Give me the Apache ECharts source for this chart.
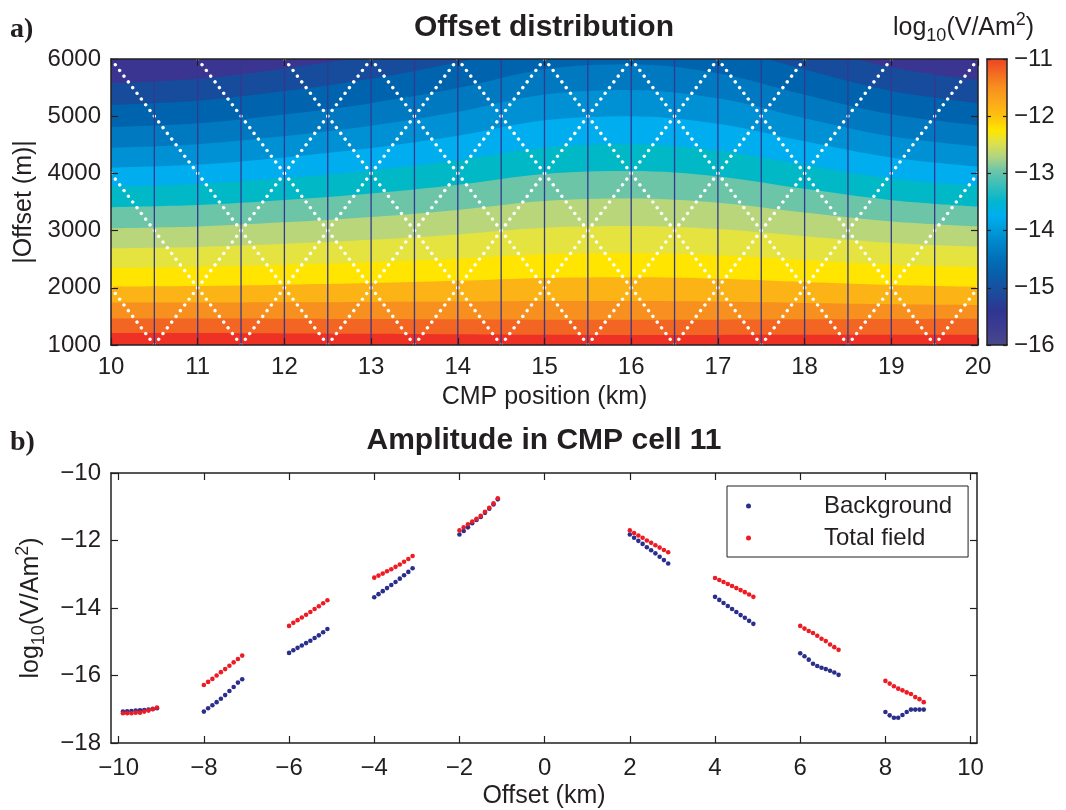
<!DOCTYPE html>
<html><head><meta charset="utf-8">
<script src="https://cdn.jsdelivr.net/npm/echarts@6/dist/echarts.min.js"></script>
<style>html,body{margin:0;padding:0;background:#fff}#c{width:1066px;height:810px}</style>
</head><body><div id="c"></div>
<script>
// ---------------- Panel a: offset distribution ----------------
const cmpNodes = [10, 11, 12, 13, 14, 15, 16, 17, 18, 19, 20];
// offset (m) of each colour-band boundary, read at the CMP nodes (bottom -> top)
const contourB0  = [1210,1208,1203,1197,1188,1178,1175,1176,1178,1179,1180];
const contourB1  = [1465,1463,1460,1455,1450,1442,1440,1443,1450,1456,1460];
const contourB2  = [1740,1742,1746,1751,1759,1768,1770,1760,1735,1713,1700];
const contourB3  = [2020,2030,2053,2083,2122,2172,2185,2160,2103,2050,2020];
const contourB4  = [2350,2365,2401,2447,2508,2585,2605,2568,2483,2404,2360];
const contourB5  = [2690,2713,2768,2838,2932,3049,3080,3026,2900,2785,2720];
const contourB6  = [3040,3071,3144,3238,3362,3518,3560,3487,3315,3158,3070];
const contourB7  = [3410,3448,3536,3649,3801,3990,4040,3947,3730,3532,3420];
const contourB8  = [3770,3814,3918,4051,4229,4451,4510,4401,4145,3911,3780];
const contourB9  = [4100,4154,4280,4442,4658,4928,5000,4868,4560,4278,4120];
const contourB10 = [4450,4511,4652,4834,5076,5379,5460,5312,4965,4648,4470];
const contourB11 = [4810,4876,5030,5228,5492,5822,5910,5750,5375,5033,4840];
const contourB12 = [5200,5272,5440,5656,5944,6304,6400,6225,5815,5441,5230];
const contourB13 = [5575,5653,5835,6069,6381,6771,6875,6688,6253,5854,5630];
// fill colour below each boundary (index i fills below contourBi); last = top band
const bandColors = ['#EE3124','#F26522','#F7901E','#FBB316','#FFE500','#E5E33F','#B9D77A',
                    '#6DC5A8','#00B8C6','#00ADEE','#0090D4','#0079C0','#0063AE','#174B9B','#3A3590'];
const cellEdges = [10.5,11,11.5,12,12.5,13,13.5,14,14.5,15,15.5,16,16.5,17,17.5,18,18.5,19,19.5];
const vertexCmp = [10.5,11.5,12.5,13.5,14.5,15.5,16.5,17.5,18.5,19.5];
const armHalfWidthKm = 2.5;
const offsetStepM = 100;
const cmpTicks = [10,11,12,13,14,15,16,17,18,19,20];
const offsetTicks = [1000,2000,3000,4000,5000,6000];
const cbTicks = [-16,-15,-14,-13,-12,-11];
const cbLevels = [-16,-15.7,-15.4,-15.1,-14.8,-14.5,-14.2,-13.95,-13.75,-13.5,-13.2,-12.95,-12.7,-12.45,-12.25,-12.0,-11.75,-11.5,-11.25,-11.0];
const cbColors = ['#47498A','#3D3C92','#2E3591','#1D4B9C','#0A5CA9','#0070B8','#0087CB','#009EDD','#00AEEF','#00B6CF',
                  '#3ABFB8','#6DC5A8','#B3D57F','#E1E147','#FFE600','#FDC20E','#FBA81A','#F7901E','#F26B21','#EE4424'];

// ---------------- Panel b: amplitude in CMP cell 11 ----------------
const offsetKm = [
  -9.9,-9.8,-9.7,-9.6,-9.5,-9.4,-9.3,-9.2,-9.1,
  -8,-7.9,-7.8,-7.7,-7.6,-7.5,-7.4,-7.3,-7.2,-7.1,
  -6,-5.9,-5.8,-5.7,-5.6,-5.5,-5.4,-5.3,-5.2,-5.1,
  -4,-3.9,-3.8,-3.7,-3.6,-3.5,-3.4,-3.3,-3.2,-3.1,
  -2,-1.9,-1.8,-1.7,-1.6,-1.5,-1.4,-1.3,-1.2,-1.1,
  2,2.1,2.2,2.3,2.4,2.5,2.6,2.7,2.8,2.9,
  4,4.1,4.2,4.3,4.4,4.5,4.6,4.7,4.8,4.9,
  6,6.1,6.2,6.3,6.4,6.5,6.6,6.7,6.8,6.9,
  8,8.1,8.2,8.3,8.4,8.5,8.6,8.7,8.8,8.9];
const backgroundLog = [
  -17.07,-17.06,-17.05,-17.04,-17.03,-17.02,-17.01,-16.99,-16.97,
  -17.07,-16.97,-16.88,-16.79,-16.69,-16.58,-16.46,-16.34,-16.21,-16.11,
  -15.33,-15.25,-15.18,-15.11,-15.04,-14.97,-14.89,-14.81,-14.72,-14.62,
  -13.68,-13.59,-13.50,-13.41,-13.32,-13.23,-13.13,-13.03,-12.93,-12.82,
  -11.82,-11.72,-11.61,-11.49,-11.39,-11.30,-11.18,-11.06,-10.93,-10.78,
  -11.82,-11.92,-12.01,-12.10,-12.20,-12.29,-12.38,-12.48,-12.58,-12.68,
  -13.67,-13.76,-13.85,-13.94,-14.03,-14.12,-14.21,-14.29,-14.38,-14.47,
  -15.34,-15.43,-15.53,-15.65,-15.72,-15.77,-15.81,-15.86,-15.91,-15.98,
  -17.08,-17.18,-17.25,-17.25,-17.17,-17.08,-17.01,-17.01,-17.01,-17.01];
const totalLog = [
  -17.12,-17.12,-17.12,-17.10,-17.10,-17.07,-17.04,-17.00,-16.95,
  -16.28,-16.19,-16.10,-16.00,-15.90,-15.81,-15.71,-15.61,-15.51,-15.41,
  -14.53,-14.44,-14.36,-14.28,-14.20,-14.12,-14.03,-13.95,-13.86,-13.77,
  -13.10,-13.04,-12.98,-12.91,-12.85,-12.78,-12.71,-12.63,-12.55,-12.46,
  -11.70,-11.61,-11.52,-11.44,-11.36,-11.27,-11.15,-11.03,-10.90,-10.75,
  -11.70,-11.78,-11.85,-11.92,-12.00,-12.07,-12.14,-12.21,-12.28,-12.35,
  -13.11,-13.17,-13.23,-13.29,-13.35,-13.41,-13.47,-13.53,-13.60,-13.67,
  -14.53,-14.61,-14.68,-14.74,-14.82,-14.91,-14.98,-15.08,-15.16,-15.24,
  -16.16,-16.24,-16.32,-16.39,-16.44,-16.50,-16.55,-16.64,-16.70,-16.79];
const ampXTicks = [-10,-8,-6,-4,-2,0,2,4,6,8,10];
const ampYTicks = [-18,-16,-14,-12,-10];

// ---------------- layout ----------------
const INK = '#231F20';
const FONT = '"Liberation Sans", Arial, Helvetica, sans-serif';
const GA = {left: 111, top: 59, width: 867, height: 286};
const GC = {left: 987, top: 59, width: 20, height: 286};
const GB = {left: 111, top: 473, width: 866, height: 270};

const contours = [contourB0,contourB1,contourB2,contourB3,contourB4,contourB5,contourB6,
                  contourB7,contourB8,contourB9,contourB10,contourB11,contourB12,contourB13];
const fmt = v => (v < 0 ? '\u2212' + String(Math.abs(v)) : String(v));

function axis(grid, position, min, max, ticks, labels, tickLen, extra) {
  return Object.assign({
    type: 'value', gridIndex: grid, position: position, min: min, max: max, z: 10,
    axisLine: {show: true, onZero: false, lineStyle: {color: INK, width: 1.5}},
    axisTick: ticks ? {show: true, inside: true, length: tickLen, customValues: ticks,
                       lineStyle: {color: INK, width: 1.2}} : {show: false},
    axisLabel: labels ? {show: true, customValues: ticks, formatter: fmt, fontSize: 24,
                         color: INK, fontFamily: FONT, margin: 10} : {show: false},
    splitLine: {show: false}
  }, extra || {});
}
const richLog = {
  sub: {fontSize: 18, lineHeight: 18, verticalAlign: 'bottom', fontFamily: FONT, color: INK},
  sup: {fontSize: 18, lineHeight: 18, verticalAlign: 'top', fontFamily: FONT, color: INK}
};

const xAxes = [
  axis(0, 'bottom', 10, 20, cmpTicks, true, 7, {
    name: 'CMP position (km)', nameLocation: 'middle', nameGap: 40,
    nameTextStyle: {fontSize: 25, color: INK, fontFamily: FONT}}),
  axis(0, 'top', 10, 20, cmpTicks, false, 7),
  axis(1, 'bottom', 0, 1, null, false, 0),
  axis(1, 'top', 0, 1, null, false, 0),
  axis(2, 'bottom', -10.18, 10.15, ampXTicks, true, 7, {
    name: 'Offset (km)', nameLocation: 'middle', nameGap: 41,
    nameTextStyle: {fontSize: 25, color: INK, fontFamily: FONT}}),
  axis(2, 'top', -10.18, 10.15, ampXTicks, false, 7)
];
xAxes[4].axisLabel.margin = 13;
const yAxes = [
  axis(0, 'left', 1000, 6000, offsetTicks, true, 7, {
    name: '|Offset (m)|', nameLocation: 'middle', nameGap: 66, nameRotate: 90,
    nameTextStyle: {fontSize: 25, color: INK, fontFamily: FONT}}),
  axis(0, 'right', 1000, 6000, offsetTicks, false, 7),
  axis(1, 'right', -16, -11, cbTicks, true, 4),
  axis(1, 'left', -16, -11, cbTicks, false, 4),
  axis(2, 'left', -18, -10, ampYTicks, true, 7, {
    name: 'log{sub|10}(V/Am{sup|2})', nameLocation: 'middle', nameGap: 63, nameRotate: 90,
    nameTextStyle: {fontSize: 25, lineHeight: 34, color: INK, fontFamily: FONT, rich: richLog}}),
  axis(2, 'right', -18, -10, ampYTicks, false, 7)
];
yAxes[2].axisLabel.margin = 7;

const series = [];
// colour bands of the contour map (drawn from the top band downward)
for (let i = contours.length - 1; i >= 0; i--) {
  series.push({
    type: 'line', xAxisIndex: 0, yAxisIndex: 0, silent: true, z: 1,
    data: cmpNodes.map((x, j) => [x, contours[i][j]]),
    smooth: 0.35, symbol: 'none', lineStyle: {width: 0},
    areaStyle: {color: bandColors[i], opacity: 1, origin: 'start'}
  });
}
// white dotted acquisition lines (each arm from its vertex at minimum offset)
const pxPerKm = GA.width / (cmpTicks[cmpTicks.length - 1] - cmpTicks[0]);
const pxPerM = GA.height / (offsetTicks[offsetTicks.length - 1] - offsetTicks[0]);
const armSpanM = offsetTicks[offsetTicks.length - 1] - offsetTicks[0];
const armLenPx = Math.hypot(armHalfWidthKm * pxPerKm, armSpanM * pxPerM);
const dotStep = armLenPx / (armSpanM / offsetStepM);
vertexCmp.forEach(v => {
  [-1, 1].forEach(s => {
    series.push({
      type: 'line', xAxisIndex: 0, yAxisIndex: 0, silent: true, z: 3,
      data: [[v, offsetTicks[0]], [v + s * armHalfWidthKm, offsetTicks[offsetTicks.length - 1]]],
      symbol: 'none',
      lineStyle: {color: '#FFFFFF', width: 3.4, type: [0.01, dotStep - 0.01], cap: 'round'}
    });
  });
});
// thin vertical cell lines
series.push({
  type: 'custom', xAxisIndex: 0, yAxisIndex: 0, silent: true, z: 4,
  data: cellEdges.map(x => [x, offsetTicks[0], offsetTicks[offsetTicks.length - 1]]),
  encode: {x: 0, y: [1, 2]},
  renderItem: (p, api) => {
    const a = api.coord([api.value(0), api.value(1)]);
    const b = api.coord([api.value(0), api.value(2)]);
    return {type: 'line', shape: {x1: a[0], y1: a[1], x2: b[0], y2: b[1]},
            style: {stroke: '#34388F', lineWidth: 1.3}};
  }
});
// colour bar
series.push({
  type: 'custom', xAxisIndex: 2, yAxisIndex: 2, silent: true, z: 1,
  data: [[0, cbTicks[0], 1, cbTicks[cbTicks.length - 1]]],
  encode: {x: [0, 2], y: [1, 3]},
  renderItem: (p, api) => {
    const lo = api.coord([api.value(0), api.value(1)]);
    const hi = api.coord([api.value(2), api.value(3)]);
    const span = cbTicks[cbTicks.length - 1] - cbTicks[0];
    const stops = cbLevels.map((l, i) => ({offset: (l - cbTicks[0]) / span, color: cbColors[i]}));
    return {type: 'rect', shape: {x: lo[0], y: hi[1], width: hi[0] - lo[0], height: lo[1] - hi[1]},
            style: {fill: new echarts.graphic.LinearGradient(0, 1, 0, 0, stops)}};
  }
});
// panel b scatter
series.push({
  name: 'Background', type: 'scatter', xAxisIndex: 4, yAxisIndex: 4, z: 3,
  data: offsetKm.map((x, i) => [x, backgroundLog[i]]),
  symbol: 'circle', symbolSize: 4.6, itemStyle: {color: '#2B2F8C', opacity: 1}
});
series.push({
  name: 'Total field', type: 'scatter', xAxisIndex: 4, yAxisIndex: 4, z: 4,
  data: offsetKm.map((x, i) => [x, totalLog[i]]),
  symbol: 'circle', symbolSize: 4.6, itemStyle: {color: '#ED1C24', opacity: 1}
});

const option = {
  animation: false,
  backgroundColor: '#FFFFFF',
  textStyle: {fontFamily: FONT, color: INK},
  grid: [
    Object.assign({show: true, backgroundColor: bandColors[bandColors.length - 1], borderWidth: 0}, GA),
    Object.assign({show: false}, GC),
    Object.assign({show: false}, GB)
  ],
  xAxis: xAxes,
  yAxis: yAxes,
  legend: {
    data: ['Background', 'Total field'], left: 727, top: 486, orient: 'vertical',
    backgroundColor: '#FFFFFF', borderColor: INK, borderWidth: 1,
    padding: [6, 16, 5, 19], itemGap: 4, itemWidth: 5, itemHeight: 5, icon: 'circle',
    selectedMode: false,
    textStyle: {fontSize: 24, lineHeight: 28, color: INK, fontFamily: FONT, padding: [0, 0, 0, 68]}
  },
  graphic: [
    {type: 'text', x: 10, y: 30, style: {text: 'a)', font: 'bold 28px "Liberation Serif", "Times New Roman", serif', fill: INK, verticalAlign: 'middle'}},
    {type: 'text', x: 10, y: 443, style: {text: 'b)', font: 'bold 28px "Liberation Serif", "Times New Roman", serif', fill: INK, verticalAlign: 'middle'}},
    {type: 'text', x: 544, y: 28, style: {text: 'Offset distribution', font: 'bold 30px ' + FONT, fill: INK, align: 'center', verticalAlign: 'middle'}},
    {type: 'text', x: 544, y: 441, style: {text: 'Amplitude in CMP cell 11', font: 'bold 30px ' + FONT, fill: INK, align: 'center', verticalAlign: 'middle'}},
    {type: 'text', x: 893, y: 28, style: {text: 'log{sub|10}(V/Am{sup|2})', fontSize: 25, fontFamily: FONT, lineHeight: 34, fill: INK,
      align: 'left', verticalAlign: 'middle', rich: richLog}}
  ],
  series: series
};
const chart = echarts.init(document.getElementById('c'), null, {renderer: 'canvas'});
chart.setOption(option);
</script></body></html>
